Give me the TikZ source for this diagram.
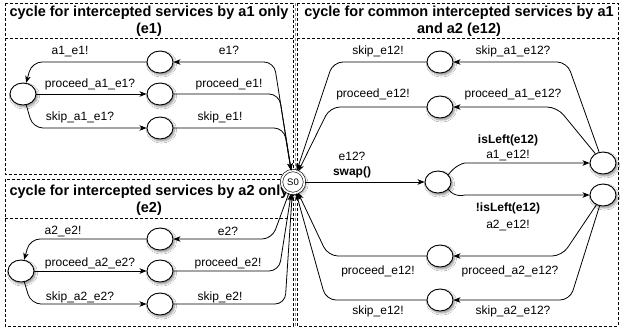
\documentclass[tikz,border=0pt]{standalone}
\usepackage{fontspec}
\setmainfont{Liberation Sans}
\usetikzlibrary{arrows.meta,shapes.geometric,shadows.blur}
\begin{document}
\begin{tikzpicture}[x=1pt,y=-1pt,
  st/.style={ellipse,draw,fill=white,line width=0.9pt,minimum width=26pt,minimum height=22pt,inner sep=0pt,
    blur shadow={shadow xshift=1.5pt,shadow yshift=-2pt,shadow blur steps=6,shadow opacity=45}},
  init/.style={circle,draw,fill=white,line width=0.6pt,double,double distance=1.8pt,minimum size=23pt,inner sep=0pt,
    font=\fontsize{9.5}{10}\selectfont,
    blur shadow={shadow xshift=1.5pt,shadow yshift=-2pt,shadow blur steps=6,shadow opacity=45}},
  lab/.style={font=\fontsize{12}{14}\selectfont,inner sep=0pt},
  blab/.style={font=\fontsize{12}{14}\selectfont\bfseries,inner sep=0pt},
  ttl/.style={font=\fontsize{14.5}{17.5}\selectfont\bfseries,align=center,inner sep=0pt},
  arr/.style={-{Stealth[length=7pt,width=5.5pt,inset=2pt]},line width=0.8pt,rounded corners=10pt},
  box/.style={draw,dash pattern=on 3pt off 2pt,line width=0.8pt},
  boxg/.style={draw=black!45,dash pattern=on 3pt off 2pt,line width=0.8pt}]
\useasboundingbox[fill=white] (0,0) rectangle (621,335);
% boxes
\draw[box] (5,3) rectangle (293,174);
\draw[box] (5,38) -- (293,38);
\draw[box] (5,179) rectangle (293,326);
\draw[box] (5,218) -- (293,218);
\draw[box] (297,3) rectangle (618,326);
\draw[box] (297,38) -- (618,38);
\draw[boxg] (295,3) -- (295,326);
% titles
\node[ttl] (t1) at (149,21) {cycle for intercepted services by a1 only\\(e1)};
\node[ttl] (t2) at (149,200) {cycle for intercepted services by a2 only\\(e2)};
\node[ttl] (t3) at (459,21) {cycle for common intercepted services by a1\\and a2 (e12)};
% states
\node[init] (S0) at (293,182) {S0};
\node[st] (n1) at (160,62) {};
\node[st] (n2) at (160,94) {};
\node[st] (n3) at (160,128) {};
\node[st] (L1) at (23,94) {};
\node[st] (m1) at (160,239) {};
\node[st] (m2) at (160,271) {};
\node[st] (m3) at (160,304) {};
\node[st] (L2) at (21,271) {};
\node[st] (r1) at (440,62) {};
\node[st] (r2) at (440,107) {};
\node[st] (mid) at (438,182) {};
\node[st] (rR1) at (603,163) {};
\node[st] (rR2) at (603,195) {};
\node[st] (r3) at (440,256) {};
\node[st] (r4) at (440,300) {};
% top-left edges
\draw[arr] (S0) -- (274,62) -- (n1);
\draw[arr] (n1) -- (32,62) -- (L1);
\draw[arr] (L1) -- (n2);
\draw[arr] (L1) -- (33,128) -- (n3);
\draw[arr] (n2) -- (279,94) -- (S0);
\draw[arr] (n3) -- (284,128) -- (S0);
% bottom-left edges
\draw[arr] (S0) -- (272,239) -- (m1);
\draw[arr] (m1) -- (30,239) -- (L2);
\draw[arr] (L2) -- (m2);
\draw[arr] (L2) -- (31,304) -- (m3);
\draw[arr] (m2) -- (279,271) -- (S0);
\draw[arr] (m3) -- (285,304) -- (S0);
% right edges
\draw[arr] (S0) -- (mid);
\draw[arr] (mid.35) to[out=55,in=180] (475,163) -- (rR1);
\draw[arr] (mid.-35) to[out=-55,in=180] (475,195) -- (rR2);
\draw[arr] (rR1) -- (567,62) -- (r1);
\draw[arr] (rR1) -- (557,107) -- (r2);
\draw[arr] (r1) -- (333,62) -- (S0);
\draw[arr] (r2) -- (330,107) -- (S0);
\draw[arr] (rR2) -- (562,256) -- (r3);
\draw[arr] (rR2) -- (570,300) -- (r4);
\draw[arr] (r3) -- (328,256) -- (S0);
\draw[arr] (r4) -- (326,300) -- (S0);
% labels top-left
\node[lab] (l1) at (70,52) {a1\_e1!};
\node[lab] (l2) at (229,50) {e1?};
\node[lab] (l3) at (90,84) {proceed\_a1\_e1?};
\node[lab] (l4) at (229,84) {proceed\_e1!};
\node[lab] (l5) at (80,117) {skip\_a1\_e1?};
\node[lab] (l6) at (220,117) {skip\_e1!};
% labels bottom-left
\node[lab] (k1) at (63,231) {a2\_e2!};
\node[lab] (k2) at (228,231) {e2?};
\node[lab] (k3) at (90,263) {proceed\_a2\_e2?};
\node[lab] (k4) at (228,263) {proceed\_e2!};
\node[lab] (k5) at (80,297) {skip\_a2\_e2?};
\node[lab] (k6) at (220,297) {skip\_e2!};
% labels right
\node[lab] (q1) at (378,51) {skip\_e12!};
\node[lab] (q2) at (513,51) {skip\_a1\_e12?};
\node[lab] (q3) at (373,94) {proceed\_e12!};
\node[lab] (q4) at (513,94) {proceed\_a1\_e12?};
\node[blab] (q5) at (508,140) {isLeft(e12)};
\node[lab] (q6) at (508,155) {a1\_e12!};
\node[lab] (q7) at (352,156) {e12?};
\node[blab] (q8) at (352,172) {swap()};
\node[blab] (q9) at (508,208) {!isLeft(e12)};
\node[lab] (q10) at (508,225) {a2\_e12!};
\node[lab] (q11) at (378,271) {proceed\_e12!};
\node[lab] (q12) at (510,271) {proceed\_a2\_e12?};
\node[lab] (q13) at (378,311) {skip\_e12!};
\node[lab] (q14) at (513,311) {skip\_a2\_e12?};
\end{tikzpicture}
\end{document}
